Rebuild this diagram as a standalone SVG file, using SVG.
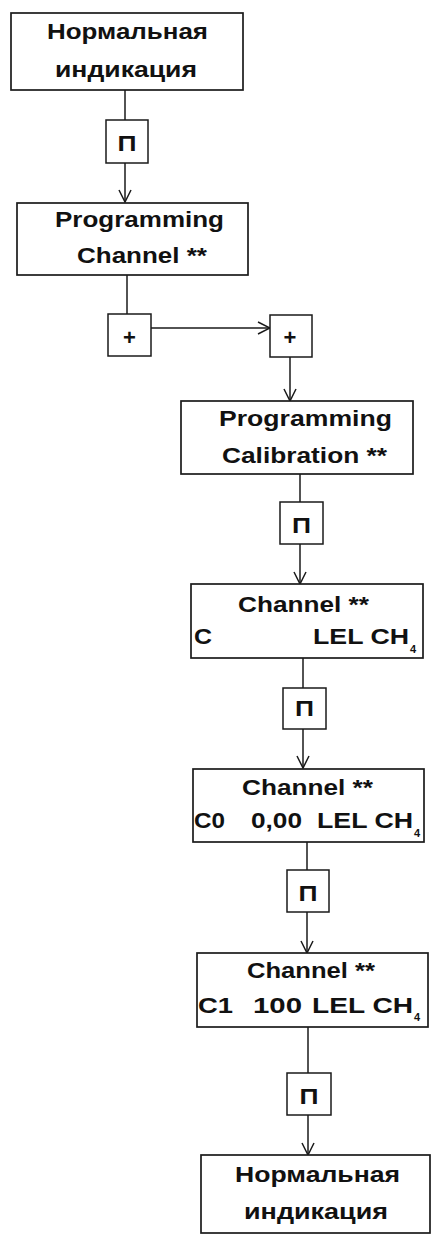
<svg xmlns="http://www.w3.org/2000/svg" width="432" height="1235" viewBox="0 0 432 1235">
<style>
.box{fill:#fff;stroke:#1a1a1a;stroke-width:1.7}
.key{fill:#fff;stroke:#1a1a1a;stroke-width:1.5}
.t{font-family:"Liberation Sans",Arial,sans-serif;font-weight:bold;font-size:21.5px;fill:#111}
.p{font-family:"Liberation Sans",Arial,sans-serif;font-weight:bold;font-size:22px;fill:#111;text-anchor:middle}
.sub{font-family:"Liberation Sans",Arial,sans-serif;font-weight:bold;font-size:11px;fill:#111}
.c{text-anchor:middle}
.ln{stroke:#1a1a1a;stroke-width:1.5;fill:none}
</style>
<defs>
<marker id="arr" viewBox="0 0 14 14" refX="13" refY="7" markerWidth="14" markerHeight="14" markerUnits="userSpaceOnUse" orient="auto">
<path d="M1,1 L13,7 L1,13" fill="none" stroke="#1a1a1a" stroke-width="1.5"/>
</marker>
</defs>
<rect width="432" height="1235" fill="#fff"/>
<g id="connectors">
<line class="ln" x1="125" y1="90" x2="125" y2="120"/>
<line class="ln" x1="125" y1="163" x2="125" y2="202" marker-end="url(#arr)"/>
<line class="ln" x1="127" y1="275" x2="127" y2="314"/>
<line class="ln" x1="151" y1="328" x2="270" y2="328" marker-end="url(#arr)"/>
<line class="ln" x1="290" y1="357" x2="290" y2="401" marker-end="url(#arr)"/>
<line class="ln" x1="300" y1="474" x2="300" y2="502"/>
<line class="ln" x1="300" y1="544" x2="300" y2="584" marker-end="url(#arr)"/>
<line class="ln" x1="303" y1="658" x2="303" y2="688"/>
<line class="ln" x1="303" y1="729" x2="303" y2="768" marker-end="url(#arr)"/>
<line class="ln" x1="307" y1="842" x2="307" y2="870"/>
<line class="ln" x1="307" y1="912" x2="307" y2="953" marker-end="url(#arr)"/>
<line class="ln" x1="308" y1="1027" x2="308" y2="1073"/>
<line class="ln" x1="308" y1="1115" x2="308" y2="1155" marker-end="url(#arr)"/>
</g>
<g id="n1">
<rect class="box" x="11" y="13" width="232" height="77"/>
<text class="t" x="47" y="39" textLength="161" lengthAdjust="spacingAndGlyphs">Нормальная</text>
<text class="t" x="55" y="77" textLength="142" lengthAdjust="spacingAndGlyphs">индикация</text>
</g>
<g id="k1">
<rect class="key" x="106" y="120" width="42" height="43"/>
<text class="p" x="127" y="150.5" textLength="19" lengthAdjust="spacingAndGlyphs">П</text>
</g>
<g id="n2">
<rect class="box" x="17" y="203" width="231" height="72"/>
<text class="t" x="55" y="227" textLength="169" lengthAdjust="spacingAndGlyphs">Programming</text>
<text class="t" x="77" y="263" textLength="130" lengthAdjust="spacingAndGlyphs">Channel **</text>
</g>
<g id="k2">
<rect class="key" x="108" y="314" width="43" height="42"/>
<text class="t c" x="129.5" y="345" style="font-size:22px">+</text>
</g>
<g id="k3">
<rect class="key" x="270" y="315" width="42" height="42"/>
<text class="t c" x="290" y="345" style="font-size:22px">+</text>
</g>
<g id="n3">
<rect class="box" x="181" y="401" width="232" height="73"/>
<text class="t" x="219" y="426" textLength="173" lengthAdjust="spacingAndGlyphs">Programming</text>
<text class="t" x="222" y="463" textLength="165" lengthAdjust="spacingAndGlyphs">Calibration **</text>
</g>
<g id="k4">
<rect class="key" x="280" y="502" width="43" height="42"/>
<text class="p" x="301.5" y="532.5" textLength="19" lengthAdjust="spacingAndGlyphs">П</text>
</g>
<g id="n4">
<rect class="box" x="191" y="584" width="232" height="74"/>
<text class="t" x="238" y="612" textLength="131" lengthAdjust="spacingAndGlyphs">Channel **</text>
<text class="t" x="194" y="644" textLength="18" lengthAdjust="spacingAndGlyphs">C</text>
<text class="t" x="313" y="644" textLength="96" lengthAdjust="spacingAndGlyphs">LEL CH</text>
<text class="sub" x="410" y="653">4</text>
</g>
<g id="k5">
<rect class="key" x="283" y="688" width="43" height="41"/>
<text class="p" x="304.5" y="715.5" textLength="19" lengthAdjust="spacingAndGlyphs">П</text>
</g>
<g id="n5">
<rect class="box" x="193" y="769" width="231" height="73"/>
<text class="t" x="242" y="795" textLength="131" lengthAdjust="spacingAndGlyphs">Channel **</text>
<text class="t" x="194" y="828" textLength="31" lengthAdjust="spacingAndGlyphs">C0</text>
<text class="t" x="251" y="828" textLength="51" lengthAdjust="spacingAndGlyphs">0,00</text>
<text class="t" x="317" y="828" textLength="96" lengthAdjust="spacingAndGlyphs">LEL CH</text>
<text class="sub" x="414" y="837">4</text>
</g>
<g id="k6">
<rect class="key" x="287" y="870" width="42" height="42"/>
<text class="p" x="308" y="900.5" textLength="19" lengthAdjust="spacingAndGlyphs">П</text>
</g>
<g id="n6">
<rect class="box" x="197" y="953" width="231" height="74"/>
<text class="t" x="247" y="978" textLength="128" lengthAdjust="spacingAndGlyphs">Channel **</text>
<text class="t" x="198" y="1013" textLength="35" lengthAdjust="spacingAndGlyphs">C1</text>
<text class="t" x="253" y="1013" textLength="49" lengthAdjust="spacingAndGlyphs">100</text>
<text class="t" x="312" y="1013" textLength="101" lengthAdjust="spacingAndGlyphs">LEL CH</text>
<text class="sub" x="414" y="1021">4</text>
</g>
<g id="k7">
<rect class="key" x="287" y="1073" width="44" height="42"/>
<text class="p" x="309" y="1103.5" textLength="19" lengthAdjust="spacingAndGlyphs">П</text>
</g>
<g id="n7">
<rect class="box" x="201" y="1155" width="229" height="78"/>
<text class="t" x="235" y="1182" textLength="165" lengthAdjust="spacingAndGlyphs">Нормальная</text>
<text class="t" x="244" y="1219" textLength="144" lengthAdjust="spacingAndGlyphs">индикация</text>
</g>
</svg>
